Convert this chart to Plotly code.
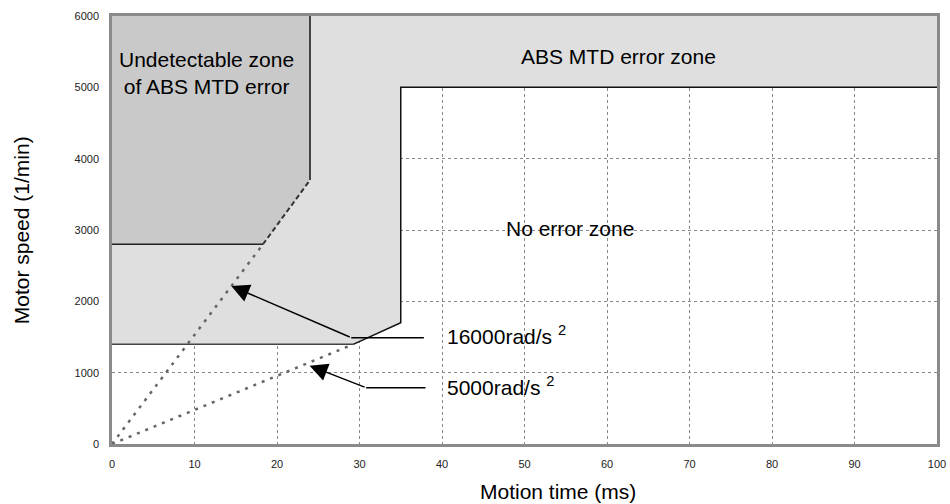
import plotly.graph_objects as go

# Zone boundaries (x: ms, y: 1/min)
undetect_x = [0, 24, 24, 18.3, 0, 0]
undetect_y = [6000, 6000, 3700, 2800, 2800, 6000]
error_x = [0, 100, 100, 35, 35, 29.3, 0, 0]
error_y = [6000, 6000, 5000, 5000, 1700, 1400, 1400, 6000]

acc16_x = [0, 18.3]
acc16_y = [0, 2800]
acc16_solid_x = [18.3, 24]
acc16_solid_y = [2800, 3700]
acc5_x = [0, 29.3]
acc5_y = [0, 1400]

x_ticks = [0, 10, 20, 30, 40, 50, 60, 70, 80, 90, 100]
y_ticks = [0, 1000, 2000, 3000, 4000, 5000, 6000]

font = "Liberation Sans, Arial, sans-serif"
FS = 21

fig = go.Figure()
fig.add_trace(go.Scatter(x=error_x, y=error_y, fill="toself", fillcolor="#dfdfdf",
                         mode="lines", line=dict(width=0), hoverinfo="skip"))
fig.add_trace(go.Scatter(x=undetect_x, y=undetect_y, fill="toself", fillcolor="#c9c9c9",
                         mode="lines", line=dict(width=0), hoverinfo="skip"))
# boundary lines
fig.add_trace(go.Scatter(x=[24, 24], y=[6000, 3700], mode="lines",
                         line=dict(color="#111", width=1.5)))
fig.add_trace(go.Scatter(x=[0, 18.3], y=[2800, 2800], mode="lines",
                         line=dict(color="#222", width=1.5)))
fig.add_trace(go.Scatter(x=[0, 29.3], y=[1400, 1400], mode="lines",
                         line=dict(color="#444", width=1.5)))
fig.add_trace(go.Scatter(x=[29.3, 35, 35, 100], y=[1400, 1700, 5000, 5000], mode="lines",
                         line=dict(color="#111", width=1.5)))
fig.add_trace(go.Scatter(x=acc16_solid_x, y=acc16_solid_y, mode="lines",
                         line=dict(color="#333", width=2, dash="5px,3px")))
fig.add_trace(go.Scatter(x=acc16_x, y=acc16_y, mode="lines",
                         line=dict(color="#666", width=2.5, dash="3px,6px")))
fig.add_trace(go.Scatter(x=acc5_x, y=acc5_y, mode="lines",
                         line=dict(color="#666", width=2.5, dash="3px,6px")))
# leader lines
fig.add_trace(go.Scatter(x=[29.0, 37.8], y=[1490, 1490], mode="lines",
                         line=dict(color="#000", width=1.5)))
fig.add_trace(go.Scatter(x=[30.8, 38.0], y=[789, 789], mode="lines",
                         line=dict(color="#000", width=1.5)))

ann = [
    dict(x=14.46, y=2215, ax=29.0, ay=1490, axref="x", ayref="y", showarrow=True,
         arrowhead=2, arrowsize=2.4, arrowwidth=1.5, arrowcolor="#000", text=""),
    dict(x=23.95, y=1098, ax=30.8, ay=789, axref="x", ayref="y", showarrow=True,
         arrowhead=2, arrowsize=2.4, arrowwidth=1.5, arrowcolor="#000", text=""),
    dict(x=40.4, y=1530, text="16000rad/s <sup>2</sup>", showarrow=False, xanchor="left",
         yanchor="middle", font=dict(size=FS, color="#000", family=font)),
    dict(x=40.4, y=815, text="5000rad/s <sup>2</sup>", showarrow=False, xanchor="left",
         yanchor="middle", font=dict(size=FS, color="#000", family=font)),
    dict(x=11.4, y=5196, text="Undetectable zone<br>of ABS MTD error", showarrow=False,
         xanchor="center", yanchor="middle", font=dict(size=FS, color="#000", family=font)),
    dict(x=61.4, y=5427, text="ABS MTD error zone", showarrow=False,
         xanchor="center", yanchor="middle", font=dict(size=FS, color="#000", family=font)),
    dict(x=55.5, y=3021, text="No error zone", showarrow=False,
         xanchor="center", yanchor="middle", font=dict(size=FS, color="#000", family=font)),
    dict(xref="paper", yref="paper", x=-0.11, y=0.5, text="Motor speed (1/min)",
         textangle=-90, showarrow=False, xanchor="center", yanchor="middle",
         font=dict(size=FS, color="#000", family=font)),
    dict(xref="paper", yref="paper", x=0.54, y=-0.112, text="Motion time (ms)",
         showarrow=False, xanchor="center", yanchor="middle",
         font=dict(size=FS, color="#000", family=font)),
]

axis_common = dict(
    showgrid=True, gridcolor="#888", griddash="dot", gridwidth=1,
    showline=True, linecolor="#8a8a8a", linewidth=2.5, mirror=True,
    ticks="", tickfont=dict(size=11, color="#222", family=font),
    zeroline=False, automargin=False, ticklabelstandoff=8,
)

fig.update_layout(
    width=950, height=504, showlegend=False,
    paper_bgcolor="white", plot_bgcolor="white",
    margin=dict(l=112, r=13, t=16, b=60),
    annotations=ann,
    xaxis=dict(range=[0, 100], tickvals=x_ticks, ticktext=[str(v) for v in x_ticks],
               **axis_common),
    yaxis=dict(range=[0, 6000], tickvals=y_ticks, ticktext=[str(v) for v in y_ticks],
               **axis_common),
)

fig.write_html("out.html", config={"displayModeBar": False},
               post_script="document.body.style.margin='0';document.body.style.overflow='hidden';")
